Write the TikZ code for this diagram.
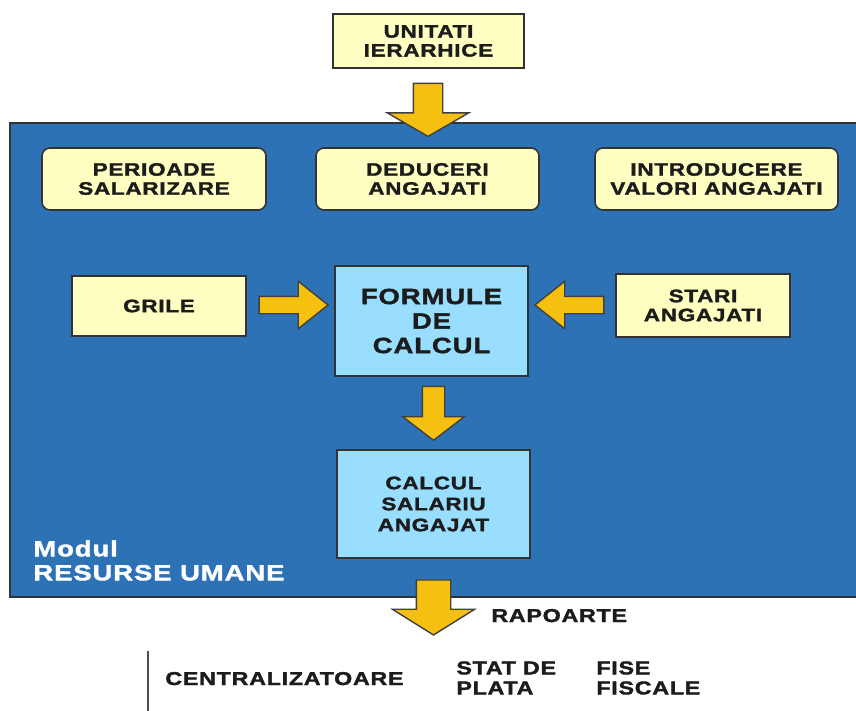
\documentclass[tikz,border=0pt]{standalone}
\usepackage{fontspec}
\setmainfont{Liberation Sans}[BoldFont={Liberation Sans Bold}, BoldFeatures={FakeBold=1.8}, FakeStretch=1.25, LetterSpace=4]
\usetikzlibrary{positioning,calc,shapes.arrows}
\definecolor{panelblue}{RGB}{46,114,182}
\definecolor{boxyellow}{RGB}{255,255,194}
\definecolor{boxblue}{RGB}{153,221,255}
\definecolor{arrgold}{RGB}{245,192,16}
\definecolor{txtdark}{RGB}{28,28,28}

\begin{document}
\begin{tikzpicture}[x=0.5pt,y=-0.5pt,
	yellowbox/.style={draw=black!80, line width=.8pt, fill=boxyellow, align=center, text=txtdark, inner sep=0pt, font=\fontsize{9}{9.5}\selectfont\bfseries},
	roundbox/.style={yellowbox, rounded corners=4pt},
	bluebox/.style={yellowbox, fill=boxblue},
	fatarrow/.style={single arrow, draw=black!75, line width=.7pt, fill=arrgold, single arrow head indent=0pt, inner xsep=0pt, anchor=tip},
	plaintext/.style={inner sep=0pt, text=txtdark, align=left, font=\fontsize{9.3}{10}\selectfont\bfseries}]
	\useasboundingbox (0,0) rectangle (856,711);
	
	% modul
	\draw[fill=panelblue, draw=black!80, line width=.8pt] (10,123) rectangle (870,597);
	\node[anchor=north west, inner sep=0pt, text=white, align=left, font=\fontsize{11}{12}\selectfont\bfseries] (modul) at (33,540) {Modul\\RESURSE UMANE};
	
	\node[yellowbox, minimum width=95.5pt, minimum height=27pt] (unit) at (428.5,41) {UNITATI\\IERARHICE};
	
	\node[roundbox, minimum width=112pt, minimum height=31pt] (per) at (154,179) {PERIOADE\\SALARIZARE};
	\node[roundbox, minimum width=111.5pt, minimum height=31pt] (ded) at (427.5,179) {DEDUCERI\\ANGAJATI};
	\node[roundbox, minimum width=121.5pt, minimum height=31pt] (intro) at (716.5,179) {INTRODUCERE\\VALORI ANGAJATI};
	
	\node[yellowbox, minimum width=87pt, minimum height=30pt] (grile) at (159,306) {GRILE};
	\node[bluebox, minimum width=96.5pt, minimum height=55pt, font=\fontsize{11}{12.25}\selectfont\bfseries] (form) at (431.5,321) {FORMULE\\DE\\CALCUL};
	\node[yellowbox, minimum width=87pt, minimum height=31.5pt] (stari) at (703,305.5) {STARI\\ANGAJATI};
	
	\node[bluebox, minimum width=96.5pt, minimum height=54pt, font=\fontsize{9}{10.5}\selectfont\bfseries] (calc) at (433.5,504) {CALCUL\\SALARIU\\ANGAJAT};
	
	% sagetile
	\node[fatarrow, rotate=-90, inner ysep=7pt, single arrow head extend=13pt, single arrow tip angle=120, minimum height=26.5pt] (a1) at ($(ded.north)+(0.5,-10)$) {};
	\node[fatarrow, inner ysep=4pt, single arrow head extend=7.5pt, single arrow tip angle=77, minimum height=34.5pt] (a2) at ($(form.west |- grile)+(-5,-1)$) {};
	\node[fatarrow, rotate=180, inner ysep=4pt, single arrow head extend=7.5pt, single arrow tip angle=77, minimum height=34.5pt] (a3) at ($(form.east |- stari)+(5,-0.5)$) {};
	\node[fatarrow, rotate=-90, inner ysep=5.25pt, single arrow head extend=9.75pt, single arrow tip angle=105, minimum height=27pt] (a4) at ($(calc.north)+(0,-8)$) {};
	\node[fatarrow, rotate=-90, inner ysep=8.25pt, single arrow head extend=12pt, single arrow tip angle=116, minimum height=27.5pt] (a5) at ($(calc.south)+(0,77)$) {};
	
	% rapoarte
	\node[plaintext, anchor=base west] (rap) at (491,622) {RAPOARTE};
	\draw[black!70, line width=1pt] (148,651) -- (148,715);
	\node[plaintext, anchor=base west] (centr) at (165,685) {CENTRALIZATOARE};
	\node[plaintext, anchor=north west] (stat) at (456,661) {STAT DE\\PLATA};
	\node[plaintext, anchor=north west] (fise) at (596,661) {FISE\\FISCALE};
\end{tikzpicture}
\end{document}
